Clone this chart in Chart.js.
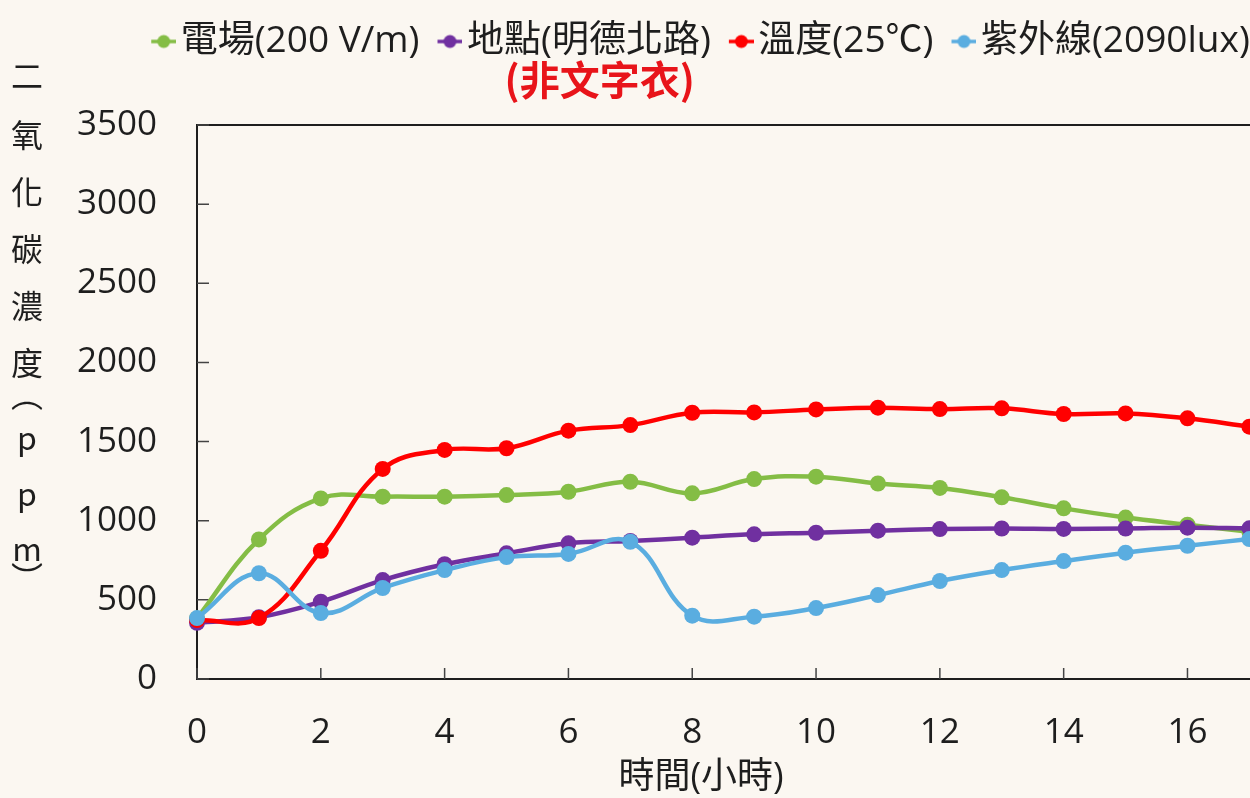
<!DOCTYPE html>
<html>
<head>
<meta charset="utf-8">
<script src="https://cdn.jsdelivr.net/npm/chart.js@4.4.0/dist/chart.umd.min.js"></script>
<style>
    html, body { margin: 0; padding: 0; background: #fbf7f1; overflow: hidden; }
    .wrap { width: 1250px; height: 798px; overflow: hidden; }
</style>
</head>
<body>
<div class="wrap"><canvas id="co2Chart" width="1336" height="798"></canvas></div>
<script>
// 時間(小時)
const hours = [0, 1, 2, 3, 4, 5, 6, 7, 8, 9, 10, 11, 12, 13, 14, 15, 16, 17];
const xTickLabels = [0, 2, 4, 6, 8, 10, 12, 14, 16];
const yTickLabels = [0, 500, 1000, 1500, 2000, 2500, 3000, 3500];

// 二氧化碳濃度 (ppm)
const fieldValues = [383, 882, 1141, 1152, 1152, 1162, 1183, 1246, 1173, 1263, 1278, 1235, 1207, 1148, 1078, 1020, 975, 930];
const placeValues = [355, 390, 488, 625, 725, 794, 857, 872, 893, 914, 924, 937, 947, 951, 948, 951, 956, 952];
const tempValues = [372, 385, 810, 1327, 1447, 1458, 1569, 1604, 1682, 1684, 1703, 1714, 1705, 1710, 1674, 1678, 1647, 1594];
const uvValues = [385, 668, 417, 575, 688, 770, 790, 867, 400, 394, 448, 530, 619, 688, 745, 798, 842, 884];

const seriesNames = ['電場(200 V/m)', '地點(明德北路)', '溫度(25℃)', '紫外線(2090lux)'];
const seriesColors = ['#84bd45', '#7030a0', '#ff0000', '#5aade0'];

const INK = '#1e1e1e';
const FONT = '"Open Sans", "Noto Sans CJK TC", sans-serif';
const CJK = '"Noto Sans CJK TC", sans-serif';

// 圖例用的小線段 + 圓點
function makeMarker(color) {
    const c = document.createElement('canvas');
    c.width = 34;
    c.height = 16;
    const g = c.getContext('2d');
    g.strokeStyle = color;
    g.lineWidth = 3.5;
    g.beginPath();
    g.moveTo(9, 8);
    g.lineTo(34, 8);
    g.stroke();
    g.fillStyle = color;
    g.beginPath();
    g.arc(21.5, 8, 6.5, 0, Math.PI * 2);
    g.fill();
    return c;
}
const legendMarkers = seriesColors.map(makeMarker);

function makeSet(i, values) {
    return {
        label: seriesNames[i],
        data: hours.map((h, k) => ({ x: h, y: values[k] })),
        borderColor: seriesColors[i],
        backgroundColor: seriesColors[i],
        borderWidth: 4.5,
        pointRadius: 8,
        pointHoverRadius: 8,
        pointBorderWidth: 0,
        tension: 0.4,
        clip: false,
        order: 4 - i // 後面的系列畫在上層
    };
}

// 外框與朝內的刻度線
const framePlugin = {
    id: 'frame',
    beforeDatasetsDraw(chart) {
        const { ctx, chartArea: a, scales } = chart;
        ctx.save();
        ctx.strokeStyle = INK;
        ctx.lineWidth = 2;
        ctx.beginPath();
        ctx.moveTo(a.right + 5, a.top);
        ctx.lineTo(a.left, a.top);
        ctx.lineTo(a.left, a.bottom);
        ctx.lineTo(a.right + 5, a.bottom);
        ctx.stroke();

        ctx.lineWidth = 1.5;
        ctx.strokeStyle = '#444';
        ctx.beginPath();
        yTickLabels.forEach(v => {
            const y = scales.y.getPixelForValue(v);
            ctx.moveTo(a.left, y);
            ctx.lineTo(a.left + 12, y);
        });
        xTickLabels.forEach(v => {
            const x = scales.x.getPixelForValue(v);
            ctx.moveTo(x, a.bottom);
            ctx.lineTo(x, a.bottom - 11);
        });
        ctx.stroke();
        ctx.restore();
    },
    afterDraw(chart) {
        const { ctx, chartArea: a, legend } = chart;
        ctx.save();
        ctx.fillStyle = INK;
        ctx.textAlign = 'center';
        ctx.textBaseline = 'middle';

        // 直排的 y 軸標題
        ctx.font = '32px ' + CJK;
        const yTitle = [['二', 76], ['氧', 135], ['化', 192], ['碳', 249], ['濃', 306], ['度', 363],
                        ['︵', 395], ['p', 438], ['p', 494], ['m', 549], ['︶', 578]];
        yTitle.forEach(([ch, y]) => ctx.fillText(ch, 27, y));

        // x 軸標題
        ctx.font = '36px ' + FONT;
        ctx.fillText('時間(小時)', a.left + 504, 778);

        // 地點圖例下方的紅字註記
        const hb = legend.legendHitBoxes[1];
        ctx.fillStyle = '#e8141a';
        ctx.font = 'bold 40px ' + CJK;
        ctx.fillText('(非文字衣)', hb.left + hb.width / 2 + 23, 80);
        ctx.restore();
    }
};

new Chart(document.getElementById('co2Chart'), {
    type: 'line',
    data: {
        datasets: [
            makeSet(0, fieldValues),
            makeSet(1, placeValues),
            makeSet(2, tempValues),
            makeSet(3, uvValues)
        ]
    },
    options: {
        responsive: false,
        animation: false,
        events: [],
        layout: { padding: { left: 70, top: 0, right: 0, bottom: 0 } },
        plugins: {
            legend: {
                position: 'top',
                align: 'center',
                labels: {
                    usePointStyle: true,
                    pointStyleWidth: 6,
                    padding: 23,
                    color: INK,
                    font: { family: FONT, size: 37 },
                    generateLabels(chart) {
                        const items = Chart.defaults.plugins.legend.labels.generateLabels(chart);
                        items.forEach(it => { it.pointStyle = legendMarkers[it.datasetIndex]; });
                        return items.sort((p, q) => p.datasetIndex - q.datasetIndex);
                    }
                }
            },
            // 圖例與繪圖區之間的留白
            title: { display: true, text: ' ', weight: 500, padding: { top: 0, bottom: 19 }, font: { size: 30 } },
            tooltip: { enabled: false }
        },
        scales: {
            x: {
                type: 'linear',
                min: 0,
                max: 18.27,
                afterBuildTicks(scale) { scale.ticks = xTickLabels.map(v => ({ value: v })); },
                afterFit(scale) { scale.height = 119; },
                ticks: { color: INK, padding: 25, font: { family: FONT, size: 35 }, maxRotation: 0, callback: v => String(v) },
                grid: { display: false },
                border: { display: false }
            },
            y: {
                min: 0,
                max: 3500,
                afterBuildTicks(scale) { scale.ticks = yTickLabels.map(v => ({ value: v })); },
                afterFit(scale) { scale.width = 127; },
                ticks: { color: INK, padding: 32, font: { family: FONT, size: 35 }, callback: v => String(v) },
                grid: { display: false },
                border: { display: false }
            }
        }
    },
    plugins: [framePlugin]
});
</script>
</body>
</html>
